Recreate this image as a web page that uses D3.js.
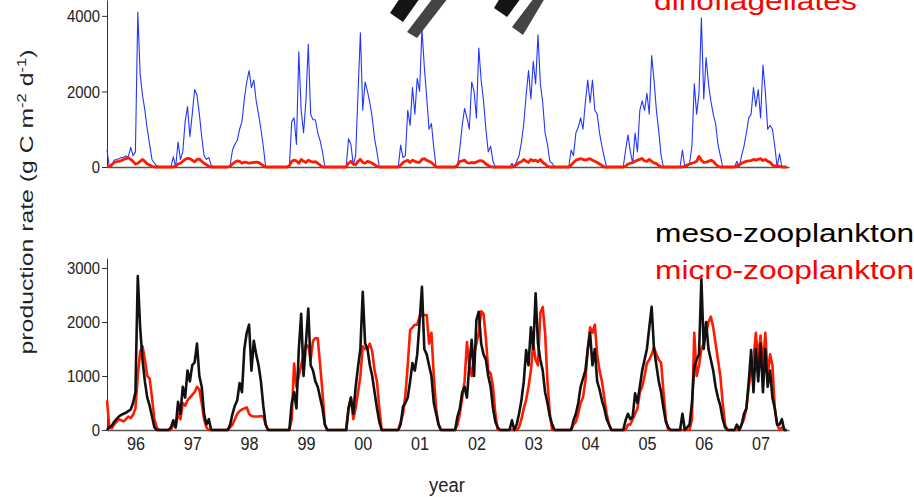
<!DOCTYPE html>
<html>
<head>
<meta charset="utf-8">
<script src="https://cdn.jsdelivr.net/npm/d3@7"></script>
<style>
  body { margin: 0; background: #fff; }
  text { font-family: Arial, "Liberation Sans", Helvetica, sans-serif; }
</style>
</head>
<body>
<svg id="chart" width="914" height="497"></svg>
<script>
// half-monthly values, one row per year 1996..2007
var yearLabels = ["96","97","98","99","00","01","02","03","04","05","06","07"];
var topTicks = [0, 2000, 4000];
var bottomTicks = [0, 1000, 2000, 3000];

var diatoms = [
  [450,0,20,180,200,220,250,260,290,270,520,300,400,4100,2450,1900,1500,1000,600,200,100,30,10,0],
  [0,0,0,0,270,0,660,200,400,1200,1600,800,1400,2050,1900,1400,800,300,200,250,50,0,0,0],
  [0,0,0,0,50,450,600,700,1000,1200,1800,2250,2550,2100,2300,1750,1400,1000,550,0,0,0,0,0],
  [0,0,0,0,0,0,1200,1300,600,3050,1500,900,1750,3250,1400,1250,1250,900,700,400,0,0,0,0],
  [0,0,0,0,0,0,750,600,50,300,1950,3550,1500,2250,2000,1700,1300,750,400,0,0,0,0,0],
  [0,0,0,0,580,250,300,1500,1100,2100,1400,2350,2000,3650,2650,1850,1000,1150,500,0,0,0,0,0],
  [0,0,0,0,0,500,1100,1550,1300,1000,2250,2000,1300,3150,2300,1750,1000,400,550,150,0,0,0,0],
  [0,0,0,100,0,150,300,650,1150,1900,2550,1800,2800,2200,3500,2200,1700,900,600,150,100,0,0,0],
  [0,0,0,0,450,300,900,1050,1300,1000,1700,2300,1700,2300,1500,1400,900,550,250,0,0,0,0,0],
  [0,0,0,450,850,400,100,900,400,1500,1750,1500,1950,1400,2950,2300,1500,950,300,0,0,0,0,0],
  [0,0,0,450,0,0,100,550,2200,1400,1950,3950,1800,2900,2200,1750,1400,1150,600,300,0,0,0,0],
  [0,0,150,0,300,550,900,1300,1400,2100,1600,2050,1300,2700,2000,1000,1100,1000,550,0,350,0,0,0]
];

var dinoflagellates = [
  [0,20,60,120,140,150,170,200,220,240,200,150,80,100,150,200,150,80,50,20,0,0,0,0],
  [0,0,0,0,0,30,80,100,150,200,230,220,180,140,200,210,150,100,60,20,0,0,0,0],
  [0,0,0,0,20,80,130,160,150,100,130,120,100,110,120,130,120,80,30,0,0,0,0,0],
  [0,0,0,0,0,30,150,180,160,100,200,150,120,180,150,130,140,100,50,0,0,0,0,0],
  [0,0,0,0,0,0,100,150,80,60,150,200,120,100,150,130,100,60,20,0,0,0,0,0],
  [0,0,0,0,50,120,150,180,120,180,150,130,120,200,220,180,150,120,60,0,0,0,0,0],
  [0,0,0,0,50,150,160,180,120,100,120,110,130,160,170,140,80,40,10,0,0,0,0,0],
  [0,0,0,0,30,60,120,140,200,150,120,200,160,180,140,200,120,80,20,0,0,0,0,0],
  [0,0,0,0,50,120,180,200,220,200,180,200,220,180,150,120,80,40,0,0,0,0,0,0],
  [0,0,0,20,80,100,120,150,180,200,230,160,150,200,150,110,90,40,0,0,0,0,0,0],
  [0,0,0,0,20,50,80,100,120,150,280,180,120,130,150,180,150,80,20,0,0,0,0,0],
  [0,0,30,60,100,130,150,160,170,200,180,200,220,170,200,150,130,50,20,40,20,0,0,0]
];

var mesoZoo = [
  [0,50,80,150,200,250,280,300,320,350,380,500,700,2850,1900,1300,900,600,450,250,50,0,0,0],
  [0,0,0,50,180,50,520,300,800,600,1100,900,1200,1250,1600,1000,800,300,100,200,0,0,0,0],
  [0,0,0,0,100,300,450,550,870,700,1500,1800,1950,1100,1650,1400,1200,900,450,100,0,0,0,0],
  [0,0,0,0,0,0,500,700,400,1500,2150,1000,1600,2250,1200,1100,900,800,600,400,100,0,0,0],
  [0,0,0,0,0,0,400,600,300,800,1170,1500,2560,1600,1500,1200,1000,700,400,150,0,0,0,0],
  [0,0,0,0,100,430,500,600,900,1240,1100,1400,2000,2650,1500,1400,1200,1000,500,300,100,0,0,0],
  [0,0,0,0,250,400,700,800,600,1200,1670,1000,2040,2190,1600,1400,1300,1000,800,400,150,50,0,0],
  [0,0,0,180,0,100,300,550,900,1480,1200,1900,1500,2530,1600,1300,1100,700,500,250,100,0,0,0],
  [0,0,0,0,0,180,300,500,800,950,1100,1480,1800,1200,1500,900,750,550,400,200,100,0,0,0],
  [0,0,0,180,300,200,250,680,500,800,1100,1300,1500,1900,2280,1500,1200,900,700,400,150,50,0,0],
  [0,0,0,300,0,50,100,500,1170,1300,1400,2800,1500,2000,1500,1300,1100,800,600,450,200,50,0,0],
  [0,0,100,0,100,300,400,900,1480,700,1500,900,1600,700,1500,800,1100,600,400,100,100,200,0,0]
];

var microZoo = [
  [550,50,30,100,150,200,180,160,200,250,220,280,400,1000,1450,1550,1300,1000,950,600,200,50,0,0],
  [0,0,0,0,100,50,300,200,500,450,550,600,650,700,800,750,500,200,50,0,0,0,0,0],
  [0,0,0,0,50,100,200,300,350,380,400,420,300,260,250,250,250,260,250,100,0,0,0,0],
  [0,0,0,0,0,0,200,1230,800,1000,1200,1400,1580,1550,1300,1650,1700,1700,1200,700,100,0,0,0],
  [0,0,0,0,0,0,400,600,200,400,700,1000,1550,1500,1500,1600,1450,1100,900,400,0,0,0,0],
  [0,0,0,0,150,300,650,1200,1850,1900,1950,1950,2100,2130,2130,2130,1600,1800,1000,400,100,0,0,0],
  [0,0,0,0,100,300,600,900,1630,1200,1000,1400,1600,1800,2200,2150,1700,1100,1050,800,300,0,0,0],
  [0,0,0,0,0,0,50,200,400,560,800,1100,1600,1300,1200,2170,2280,1800,900,300,0,0,0,0],
  [0,0,0,0,0,100,150,300,500,600,900,1500,1900,1800,1950,1400,1100,900,600,300,100,0,0,0],
  [0,0,0,0,100,100,200,300,400,700,800,1000,1240,1300,1400,1530,1400,1300,1250,700,200,0,0,0],
  [0,0,0,0,0,0,0,200,1800,1000,1200,1500,1600,1800,2000,2100,1900,1600,1300,1000,500,100,0,0],
  [0,0,0,0,100,200,400,800,1100,1300,1800,1300,1750,1200,1800,1000,1400,1200,400,100,0,50,0,0]
];

var startYear = 1996;

function toPoints(rows) {
  var pts = [];
  rows.forEach(function(row, k) {
    row.forEach(function(v, i) {
      pts.push({t: startYear + k + i / row.length, v: v});
    });
  });
  return pts;
}

var svg = d3.select("#chart");

var x = d3.scaleLinear().domain([startYear, startYear + yearLabels.length]).range([107, 789]);
var yTop = d3.scaleLinear().domain([0, 4420]).range([167, 0]);
var yBot = d3.scaleLinear().domain([0, 3185]).range([430, 258]);

var lineTop = d3.line().x(function(d){ return x(d.t); }).y(function(d){ return yTop(d.v); });
var lineBot = d3.line().x(function(d){ return x(d.t); }).y(function(d){ return yBot(d.v); });

// stretch text horizontally around its anchor
function squeeze(sel, sx) {
  sel.each(function() {
    var t = d3.select(this);
    var tr = t.attr("transform") || "";
    t.attr("transform", tr + " scale(" + sx + ",1)");
  });
}

// baselines (x axis domains)
svg.append("g")
  .attr("transform", "translate(0,167)")
  .call(d3.axisBottom(x).tickValues([]).tickSizeOuter(0))
  .call(function(g){ g.select(".domain").attr("stroke", "#555").attr("stroke-width", 1.3); });

var xAxis = svg.append("g")
  .attr("transform", "translate(0,430)")
  .call(d3.axisBottom(x)
    .tickValues(yearLabels.map(function(d, i){ return startYear + i + 0.5; }))
    .tickFormat(function(d, i){ return yearLabels[i]; })
    .tickSize(0).tickSizeOuter(0).tickPadding(15));
xAxis.select(".domain").attr("stroke", "#555").attr("stroke-width", 1.3);
xAxis.selectAll(".tick text")
  .attr("font-size", 18).attr("fill", "#222")
  .attr("font-family", "Arial, 'Liberation Sans', sans-serif")
  .attr("dy", "0.3em")
  .attr("transform", "scale(0.9,1)");

// y axes
function styleY(g) {
  g.select(".domain").attr("stroke", "#333").attr("stroke-width", 1);
  g.selectAll(".tick line").attr("stroke", "#333");
  g.selectAll(".tick text")
    .attr("font-size", 16).attr("fill", "#222")
    .attr("font-family", "Arial, 'Liberation Sans', sans-serif")
    .attr("transform", "translate(-7,0) scale(0.93,1)")
    .attr("x", 0).attr("dy", "0.36em");
}
svg.append("g").attr("transform", "translate(107,0)")
  .call(d3.axisLeft(yTop).tickValues(topTicks).tickFormat(d3.format("d"))
    .tickSize(5).tickSizeOuter(0).tickPadding(2))
  .call(styleY);
svg.append("g").attr("transform", "translate(107,0)")
  .call(d3.axisLeft(yBot).tickValues(bottomTicks).tickFormat(d3.format("d"))
    .tickSize(5).tickSizeOuter(0).tickPadding(2))
  .call(styleY);

// series
svg.append("path").datum(toPoints(diatoms))
  .attr("fill", "none").attr("stroke", "#2236ff").attr("stroke-width", 1.1)
  .attr("stroke-linejoin", "round").attr("d", lineTop);
svg.append("path").datum(toPoints(dinoflagellates))
  .attr("fill", "none").attr("stroke", "#ff1a00").attr("stroke-width", 2.8)
  .attr("stroke-linejoin", "round").attr("d", lineTop);

svg.append("path").datum(toPoints(microZoo))
  .attr("fill", "none").attr("stroke", "#ff1a00").attr("stroke-width", 2.6)
  .attr("stroke-linejoin", "round").attr("d", lineBot);
svg.append("path").datum(toPoints(mesoZoo))
  .attr("fill", "none").attr("stroke", "#111").attr("stroke-width", 2.6)
  .attr("stroke-linejoin", "round").attr("d", lineBot);

// legend texts (the first one is cut by the top edge, as in the source)
svg.append("text").attr("transform", "translate(654,10)")
  .attr("font-size", 26).attr("fill", "#ff0000").text("dinoflagellates")
  .call(squeeze, 1.22);
svg.append("text").attr("transform", "translate(655,242)")
  .attr("font-size", 26).attr("fill", "#000").text("meso-zooplankton")
  .call(squeeze, 1.22);
svg.append("text").attr("transform", "translate(655,279)")
  .attr("font-size", 26).attr("fill", "#ff0000").text("micro-zooplankton")
  .call(squeeze, 1.22);

// axis titles
svg.append("text").attr("transform", "translate(447,492)")
  .attr("text-anchor", "middle").attr("font-size", 21).attr("fill", "#222").text("year")
  .call(squeeze, 0.88);

var yl = svg.append("text")
  .attr("text-anchor", "middle").attr("font-size", 18).attr("fill", "#222");
yl.append("tspan").text("production rate (g C m");
yl.append("tspan").attr("dy", -7).attr("font-size", 12).text("-2");
yl.append("tspan").attr("dy", 7).text(" d");
yl.append("tspan").attr("dy", -7).attr("font-size", 12).text("-1");
yl.append("tspan").attr("dy", 7).text(")");
var natural = yl.node().getComputedTextLength();
yl.attr("transform", "translate(33,202) rotate(-90) scale(" + (305 / natural) + ",1)");

// decorative slanted bars at the top
var bars = [
  {c: "#151515", p: [[390,13],[403,22],[420,-2],[400,-2]]},
  {c: "#444444", p: [[407,32],[417,38],[448,-2],[433,-2]]},
  {c: "#151515", p: [[494,8],[507,17],[521,-2],[500,-2]]},
  {c: "#444444", p: [[512,27],[523,35],[545,-2],[534,-2]]}
];
svg.append("g").selectAll("polygon").data(bars).enter().append("polygon")
  .attr("points", function(d){ return d.p.map(function(q){ return q.join(","); }).join(" "); })
  .attr("fill", function(d){ return d.c; });
</script>
</body>
</html>
